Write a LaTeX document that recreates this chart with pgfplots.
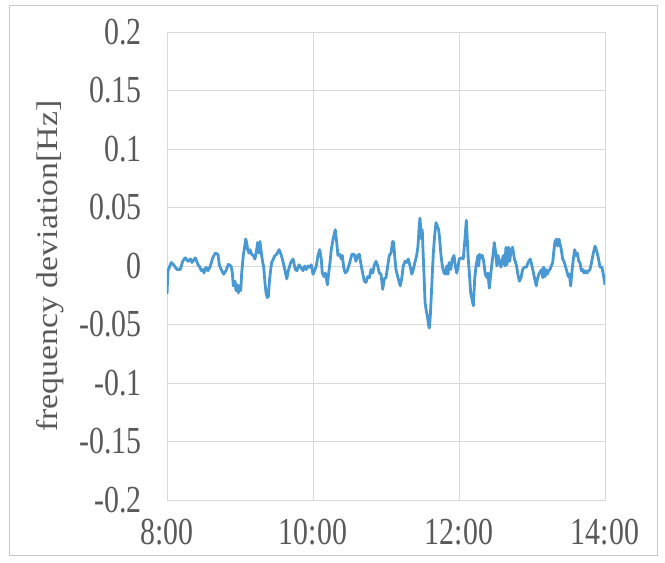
\documentclass[border=0pt]{standalone}
\usepackage{pgfplots}
\pgfplotsset{compat=1.18}
\usepackage{fontspec}
\setmainfont{Liberation Serif}
\definecolor{lineblue}{RGB}{72,152,212}
\definecolor{gridgray}{RGB}{217,217,217}
\definecolor{txtgray}{RGB}{89,89,89}
\definecolor{framegray}{RGB}{200,200,200}
\newcommand{\tl}[1]{\scalebox{1}[1.28]{#1}}
\begin{document}
\begin{tikzpicture}
\useasboundingbox (-167bp,-63bp) rectangle (498bp,500bp);
\draw[framegray, line width=1bp] (-157bp,-55bp) rectangle (490bp,494bp);
\begin{axis}[
  at={(0,0)}, anchor=south west,
  scale only axis, width=438bp, height=468bp,
  xmin=0, xmax=360, ymin=-0.2, ymax=0.2,
  xtick={0,120,240,360}, xticklabels={\tl{8:00},\tl{10:00},\tl{12:00},\tl{14:00}},
  ytick={-0.2,-0.15,-0.1,-0.05,0,0.05,0.1,0.15,0.2},
  yticklabels={\tl{-0.2},\tl{-0.15},\tl{-0.1},\tl{-0.05},\tl{0},\tl{0.05},\tl{0.1},\tl{0.15},\tl{0.2}},
  grid=major, major grid style={gridgray, line width=0.9bp},
  axis line style={gridgray, line width=0.9bp},
  major tick length=0pt,
  tick label style={font=\fontsize{30}{34}\selectfont, text=txtgray},
  yticklabel style={xshift=-22bp},
  xticklabel style={yshift=-16bp},
  ylabel={\scalebox{1.13}[1]{frequency deviation[Hz]}},
  ylabel style={at={(axis description cs:-0.267,0.5)}, anchor=center, rotate=0, font=\fontsize{30}{36}\selectfont, text=txtgray},
  clip=true,
]
\addplot[lineblue, line width=2.8bp, line join=round] coordinates {
(0,-0.024) (0.8,-0.004) (3.5,0.003) (5.5,0.001) (8.2,-0.003) (10.9,-0.003) (12.9,0.004) (15,0.007) (17.3,0.004) (19.2,0.006) (20.5,0.003) (23.3,0.007) (25.5,0.001) (26.5,0) (28.2,-0.004) (29.8,-0.003) (30.4,-0.006) (32.1,-0.001) (33.7,-0.004) (35.6,0) (37.6,0.007) (39.7,0.011) (41.9,0.010) (43,0.001) (44.6,-0.003) (46.6,-0.007) (48.5,-0.004)
(50.4,0.0014) (52.6,0) (53.7,-0.0057) (54.5,-0.017) (55.9,-0.013) (56.7,-0.021) (57.8,-0.016) (58.6,-0.023) (59.7,-0.017) (60.6,-0.021) (61.4,-0.006) (62.7,0.009) (63.5,0.014) (64.7,0.023) (65.5,0.020) (66.3,0.014) (67.4,0.011) (68.2,0.014) (69.6,0.010) (70.9,0.009) (72.3,0.006) (73.7,0.014) (74.5,0.020) (75.6,0.011) (76.4,0.021) (77.8,0.009) (78.7,0.003) (79.5,-0.001) (80.5,-0.014) (81.4,-0.023) (82.4,-0.027) (83.3,-0.026) (84.1,-0.014) (84.9,-0.006) (86,0.003) (87.4,0.006) (88.8,0.009) (90.2,0.010) (92.1,0.014) (93.7,0.010) (94.8,0.006) (96.4,-0.001) (98.4,-0.011) (99.7,-0.004)
(101.7,0.003) (103.6,0.006) (105.5,-0.003) (106.8,-0.004) (108.5,0.001) (109.9,-0.001) (111.8,-0.004) (113.2,0) (114.5,-0.003) (115.9,0) (117.3,-0.001) (118.6,0.001) (120,-0.007) (121.4,-0.004) (122.7,0) (124.1,0.009) (125.5,0.014) (126.8,0.006) (127.6,-0.006) (129,-0.009) (130.1,-0.006) (130.9,-0.010) (131.8,-0.016) (132.9,-0.006) (134,0.003) (135,0.014) (136.7,0.024) (138.3,0.031) (139.5,0.020) (140.5,0.009) (141.9,0.010) (143.3,0.006) (144.1,0.009) (145.2,-0.001) (146.5,-0.006) (148.2,-0.004) (150.2,0.003) (152,0.010)
(153.9,0.010) (155.3,0.004) (156.7,0.009) (158.1,0.010) (159.5,0.001) (160.8,-0.006) (162.2,-0.013) (163.6,-0.014) (165,-0.009) (166.3,-0.010) (167.7,-0.003) (169.1,-0.006) (170.4,0.001) (171.8,0.004) (173.2,0) (174.5,-0.006) (175.9,-0.007) (177.3,-0.020) (178.6,-0.011) (180,-0.010) (181.4,0) (182.7,0.009) (184.1,0.011) (185.5,0.021) (186.3,0.020) (187.1,0.009) (188.2,-0.003) (189.6,-0.009) (191.7,-0.017) (192.9,-0.011) (194.2,0) (195.6,0.004) (197,0.003) (198.3,0.006) (200,-0.001) (201.2,-0.007) (202.2,-0.004) (203.3,0.001)
(205.2,0.009) (206.3,0.017) (207.1,0.031) (207.9,0.041) (208.8,0.029) (209.3,0.023) (209.8,0.031) (210.4,0.014) (211.2,-0.006) (212.1,-0.031) (212.9,-0.037) (214,-0.043) (215.1,-0.051) (215.6,-0.053) (216.4,-0.043) (217.2,-0.026) (218.1,-0.006) (218.9,0.011) (220,0.026) (221.1,0.037) (222.2,0.034) (223.3,0.031) (224.1,0.023) (225.2,0.009) (226.3,0) (227.7,-0.006) (229.1,-0.007) (229.9,0) (231,-0.007) (231.8,0.003) (233.2,-0.003) (234.5,0.006) (235.9,0.009) (237,0) (238.1,-0.006) (239.2,-0.001) (240.2,0.006) (241.9,0.007) (243.5,0.006) (244.9,0.023) (246,0.039) (246.8,0.023) (247.6,0.006) (248.5,-0.006) (249.6,-0.023) (251.8,-0.034) (252.9,-0.011) (254,0) (255.6,0.009)
(256.2,0) (257,0.010) (258.1,0.007) (259.2,0.009) (260.3,0.004) (261.6,-0.007) (263,-0.010) (263.8,-0.006) (264.9,-0.019) (265.7,-0.011) (266.9,0.001) (267.9,0.009) (269,0.020) (269.8,0.014) (271.2,0) (272,0.009) (273.4,0.003) (274.5,-0.001) (275.6,0.006) (276.7,0.009) (277.6,0) (278.6,0.016) (279.4,0.001) (280.8,0.016) (281.7,0.004) (282.7,0.013) (284.1,0.016) (285.5,0.006) (287.1,0.001) (288.2,-0.006) (289.6,-0.013) (291,-0.010) (292.3,-0.003) (293.7,-0.001) (295.3,-0.001) (297.3,0.004) (298.6,0.006) (300,0) (301.4,-0.007) (303.5,-0.017) (304.7,-0.010) (306,-0.006)
(308,-0.003) (308.8,-0.010) (309.6,-0.001) (310.7,-0.009) (311.5,-0.003) (312.6,-0.007) (313.7,-0.004) (314.8,-0.003) (316.2,0.001) (317,0.003) (318.1,0.014) (318.9,0.021) (320.3,0.023) (321.1,0.017) (322.2,0.023) (323,0.019) (324.1,0.014) (325.2,0.006) (326.3,0.004) (327.4,0) (328.5,-0.004) (329.8,-0.009) (330.7,-0.007) (331.8,-0.017) (332.9,-0.004) (334,0.006) (335.1,0.014) (336.2,0.009) (337.3,0.011) (338.4,0.004) (339.4,0.003) (340.5,-0.004) (341.7,-0.003) (342.7,-0.006) (343.8,-0.004) (345,-0.006) (346.6,-0.004) (347.7,-0.003) (349.1,0.004) (350.4,0.011) (351.8,0.017) (353.2,0.013) (354.5,0.007) (355.9,-0.001) (357.5,-0.001) (358.6,-0.007) (360,-0.016)
};
\end{axis}
\end{tikzpicture}
\end{document}
